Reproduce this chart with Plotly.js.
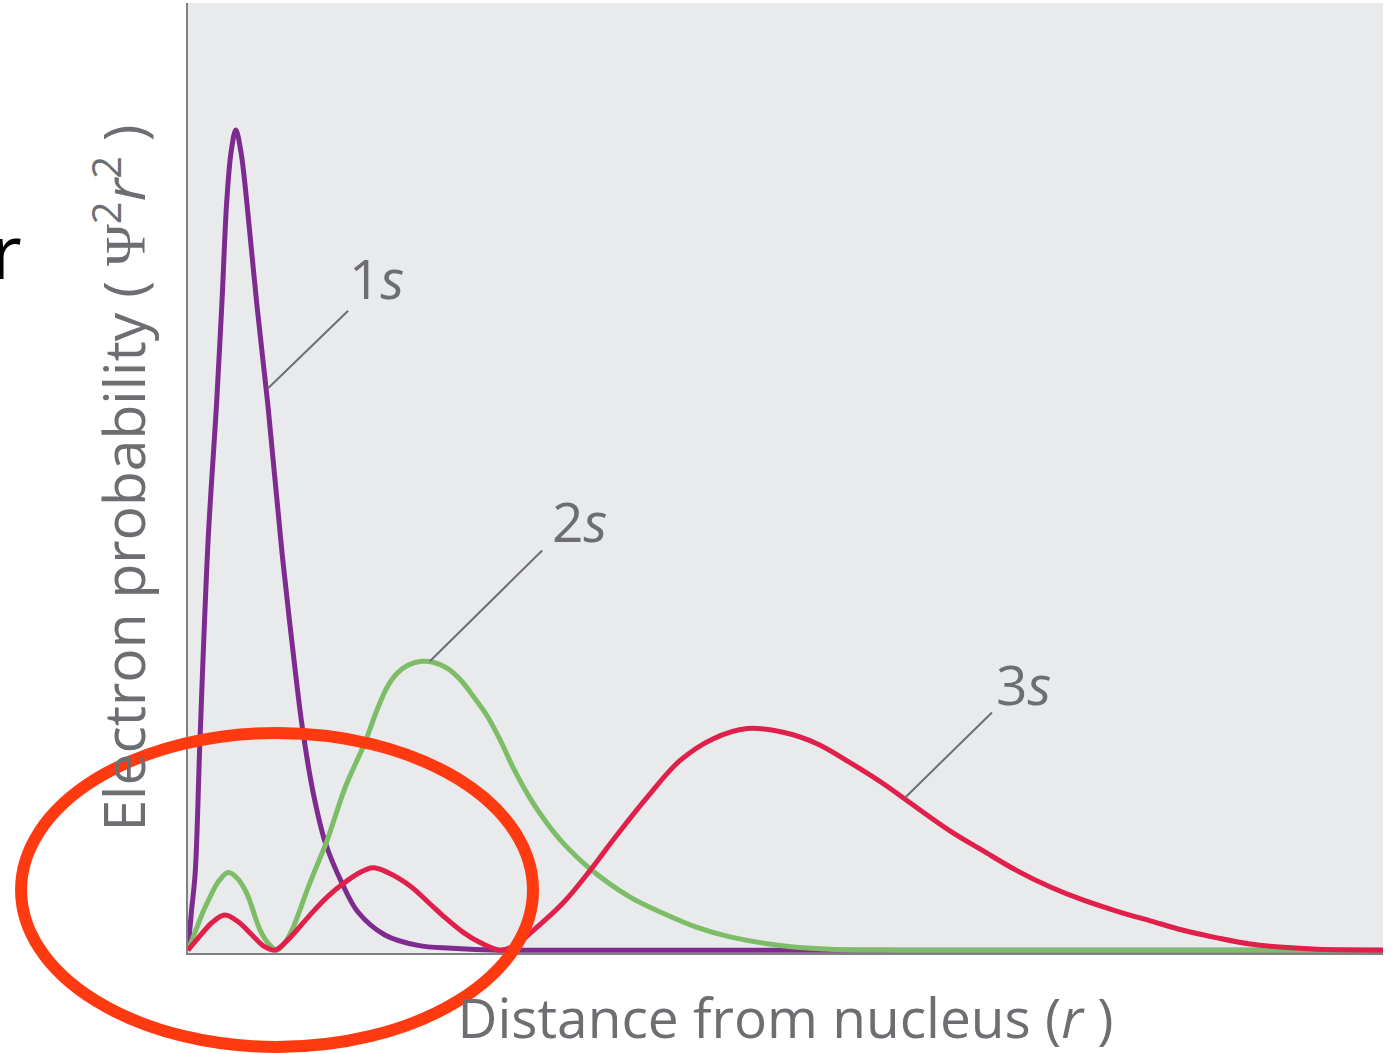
<!DOCTYPE html>
<html>
<head>
<meta charset="utf-8">
<script src="https://cdn.plot.ly/plotly-3.0.1.min.js"></script>
<style>html,body{margin:0;padding:0;background:#fff;}#chart{width:1391px;height:1054px;}</style>
</head>
<body>
<div id="chart"></div>
<script>
// Radial distance (arbitrary units, ~Bohr radii) and electron probability (arbitrary units)
const r1s = [0, 0.07, 0.15, 0.25, 0.42, 0.60, 0.71, 0.81, 0.90, 1.00, 1.11, 1.23, 1.44, 1.67, 1.97, 2.18, 2.39, 2.62, 2.87, 3.22, 3.56, 4.12, 4.81, 5.52, 6.53, 8.6, 12.8, 25];
const p1s = [0, 4.0, 8.1, 22.1, 43.2, 57.9, 68.4, 79.0, 84.2, 86.6, 84.2, 79.0, 68.2, 57.6, 41.8, 32.3, 23.6, 16.6, 11.4, 7.1, 4.0, 1.6, 0.5, 0.2, 0, 0, 0, 0];

const r2s = [0, 0.18, 0.32, 0.46, 0.63, 0.84, 1.03, 1.23, 1.51, 1.70, 1.86, 2.03, 2.20, 2.55, 2.91, 3.29, 3.70, 3.95, 4.16, 4.37, 4.61, 4.89, 5.13, 5.41, 5.69, 5.97, 6.25, 6.53, 6.80, 7.16, 7.51, 7.85, 8.41, 9.25, 9.94, 10.65, 11.34, 12.39, 13.43, 14.9, 17.0, 25];
const p2s = [0, 2.3, 4.1, 5.6, 7.2, 8.2, 7.6, 6.0, 2.1, 0.6, 0, 0.8, 2.4, 7.1, 11.6, 17.2, 21.9, 25.3, 27.7, 29.2, 30.1, 30.5, 30.4, 29.8, 28.6, 26.8, 24.8, 22.2, 19.3, 16.0, 13.4, 11.3, 8.6, 5.6, 3.9, 2.4, 1.4, 0.5, 0.1, 0, 0, 0];

const r3s = [0, 0.25, 0.50, 0.77, 1.05, 1.34, 1.59, 1.82, 2.13, 2.55, 2.91, 3.24, 3.56, 3.87, 4.18, 4.64, 5.06, 5.34, 5.75, 6.11, 6.53, 6.84, 7.16, 7.85, 8.41, 8.89, 9.60, 10.29, 10.98, 11.70, 12.45, 13.16, 13.85, 14.54, 15.04, 15.94, 16.63, 17.34, 18.03, 18.72, 19.44, 20.13, 20.82, 21.53, 22.22, 22.91, 23.62, 25];
const p3s = [0, 1.5, 2.9, 3.7, 3.0, 1.6, 0.4, 0, 1.3, 3.7, 5.6, 7.0, 8.1, 8.7, 8.2, 6.8, 4.9, 3.6, 1.9, 0.8, 0, 0.5, 1.8, 5.0, 8.4, 11.6, 16.1, 20.0, 22.3, 23.4, 23.0, 21.8, 19.8, 17.6, 15.8, 12.6, 10.5, 8.4, 6.7, 5.3, 4.1, 3.1, 2.1, 1.3, 0.65, 0.3, 0.1, 0];

const orbitalLabels = ['1<i>s</i>', '2<i>s</i>', '3<i>s</i>'];
const xTitle = 'Distance from nucleus (<i>r</i> )';
const yTitle = 'Electron probability ( <span style="font-family:Liberation Serif, DejaVu Serif, serif">Ψ</span><sup>2</sup><i>r</i><sup>2</sup> )';

const gray = '#6d6e71';
const font = 'Open Sans, Noto Sans, sans-serif';

const lineStyle = (c) => ({color: c, width: 5, shape: 'spline', smoothing: 1});
const traces = [
  {x: r1s, y: p1s, mode: 'lines', line: lineStyle('#7d2b8e'), hoverinfo: 'skip'},
  {x: r2s, y: p2s, mode: 'lines', line: lineStyle('#7dbd68'), hoverinfo: 'skip'},
  {x: r3s, y: p3s, mode: 'lines', line: lineStyle('#e01f4b'), hoverinfo: 'skip'}
];

const labelPos = [[3.95, 71.0], [8.18, 45.4], [17.47, 28.2]];
const leaders = [[1.67, 59.3, 3.35, 67.5], [5.06, 30.5, 7.41, 42.2], [15.0, 16.1, 16.82, 25.1]];

const annotations = orbitalLabels.map((t, i) => ({
  x: labelPos[i][0], y: labelPos[i][1], xref: 'x', yref: 'y', text: t, showarrow: false,
  xanchor: 'center', yanchor: 'middle', font: {family: font, size: 55, color: gray}
}));
annotations.push({
  x: -0.1523, y: 0.74, xref: 'paper', yref: 'paper', text: 'r', showarrow: false,
  xanchor: 'center', yanchor: 'middle', font: {family: font, size: 75, color: '#000'}
});

const shapes = leaders.map(l => ({
  type: 'line', xref: 'x', yref: 'y', x0: l[0], y0: l[1], x1: l[2], y1: l[3],
  line: {color: gray, width: 2}, layer: 'above'
}));
shapes.push({
  type: 'circle', xref: 'paper', yref: 'paper',
  x0: -0.1397, x1: 0.2887, y0: -0.0989, y1: 0.2316,
  line: {color: '#ff3a10', width: 12}, layer: 'above'
});

const layout = {
  width: 1391, height: 1054,
  margin: {l: 188, r: 8, t: 3, b: 101, pad: 0},
  paper_bgcolor: '#ffffff', plot_bgcolor: '#e9eaec',
  showlegend: false,
  xaxis: {
    range: [0, 25], showline: true, linecolor: '#808080', linewidth: 2,
    showgrid: false, zeroline: false, showticklabels: false, ticks: '',
    title: {text: xTitle, font: {family: font, size: 55, color: gray}, standoff: 47}
  },
  yaxis: {
    range: [-0.3, 100], showline: true, linecolor: '#808080', linewidth: 2,
    showgrid: false, zeroline: false, showticklabels: false, ticks: '',
    title: {text: yTitle, font: {family: font, size: 57, color: gray}, standoff: 22}
  },
  annotations: annotations,
  shapes: shapes
};

Plotly.newPlot('chart', traces, layout, {displayModeBar: false, staticPlot: true});
</script>
</body>
</html>
